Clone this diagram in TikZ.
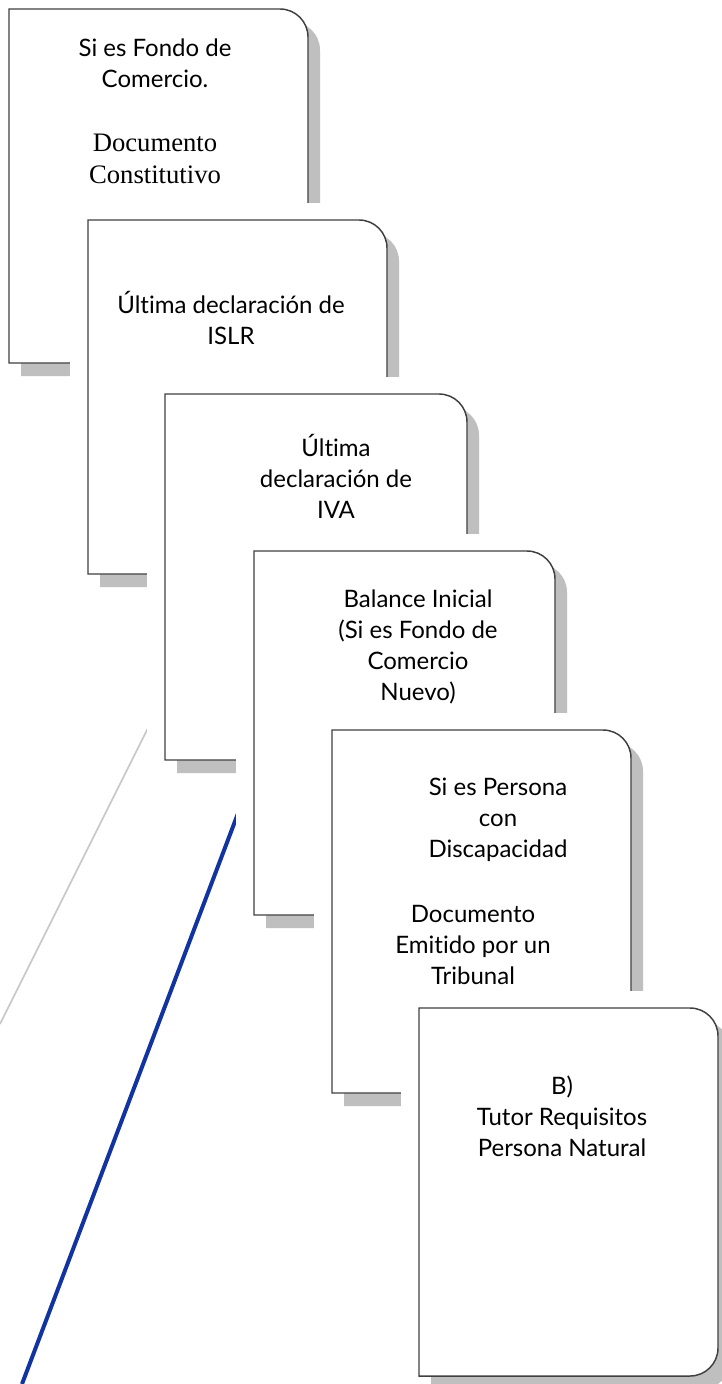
\documentclass[tikz,border=0pt]{standalone}
\usepackage{fontspec}
\setmainfont{Lato}[Ligatures={NoCommon}]
\newfontfamily\serifa{Liberation Serif}

\definecolor{azul}{RGB}{18,52,160}
\definecolor{grisclaro}{RGB}{200,200,200}

\begin{document}
\begin{tikzpicture}[x=0.75pt,y=0.75pt,
    borde/.style={draw=black!75, line width=1.1pt, fill=white},
    sombra/.style={fill=black!25},
    relleno/.style={fill=white},
    texto/.style={align=center, inner sep=0pt, font=\fontsize{18}{23.25}\selectfont},
    textoserif/.style={align=center, inner sep=0pt, font=\serifa\fontsize{20}{24}\selectfont}]

  \useasboundingbox (0,0) rectangle (721,-1384);

  % one sheet: left, top, right, bottom (pixels, y going down)
  \def\radio{28}
  \def\hoja#1#2#3#4{%
    \fill[relleno] ({#1-18},{-#2+17}) rectangle ({#3+14},{-#4-16});
    \fill[sombra, shift={(12,-13)}] (#1,-#2) -- ({#3-\radio},-#2)
      arc[start angle=90, end angle=0, radius=\radio] -- (#3,{-#4+\radio})
      arc[start angle=0, end angle=-90, radius=\radio] -- (#1,-#4) -- cycle;
    \draw[borde] (#1,-#2) -- ({#3-\radio},-#2)
      arc[start angle=90, end angle=0, radius=\radio] -- (#3,{-#4+\radio})
      arc[start angle=0, end angle=-90, radius=\radio] -- (#1,-#4) -- cycle;
  }

  %-----------------------------
  % the two slanted lines behind the sheets
  \coordinate (grisA) at (0,-1024);
  \coordinate (grisB) at (170,-684);
  \draw[grisclaro, line width=1.2pt] (grisA) -- (grisB);

  \coordinate (azulA) at (22,-1384);
  \coordinate (azulB) at (262,-750);
  \draw[azul, line width=3pt] (azulA) -- (azulB);

  %-----------------------------
  % sheet 1
  \hoja{9}{9}{308}{363}
  \node[texto] (fondo) at (155,-63) {Si es Fondo de\\Comercio.};
  \node[textoserif] (constitutivo) at (155,-159) {Documento\\Constitutivo};

  % sheet 2
  \hoja{88}{220}{387}{574}
  \node[texto] (islr) at (231,-318) {Última declaración de\\ISLR};

  % sheet 3
  \hoja{165}{394}{467}{760}
  \node[texto] (iva) at (336,-476) {Última\\declaración de\\IVA};

  % sheet 4
  \hoja{254}{551}{555}{915}
  \node[texto] (balance) at (418,-647) {Balance Inicial\\(Si es Fondo de\\Comercio\\Nuevo)};

  % sheet 5
  \hoja{332}{730}{631}{1093}
  \node[texto] (discapacidad) at (498,-820) {Si es Persona\\con\\Discapacidad};
  \node[texto] (tribunal) at (473,-945) {Documento\\Emitido por un\\Tribunal};

  % sheet 6
  \hoja{419}{1008}{718}{1376}
  \node[texto] (tutor) at (562,-1116) {B)\\Tutor Requisitos\\Persona Natural};
\end{tikzpicture}
\end{document}
